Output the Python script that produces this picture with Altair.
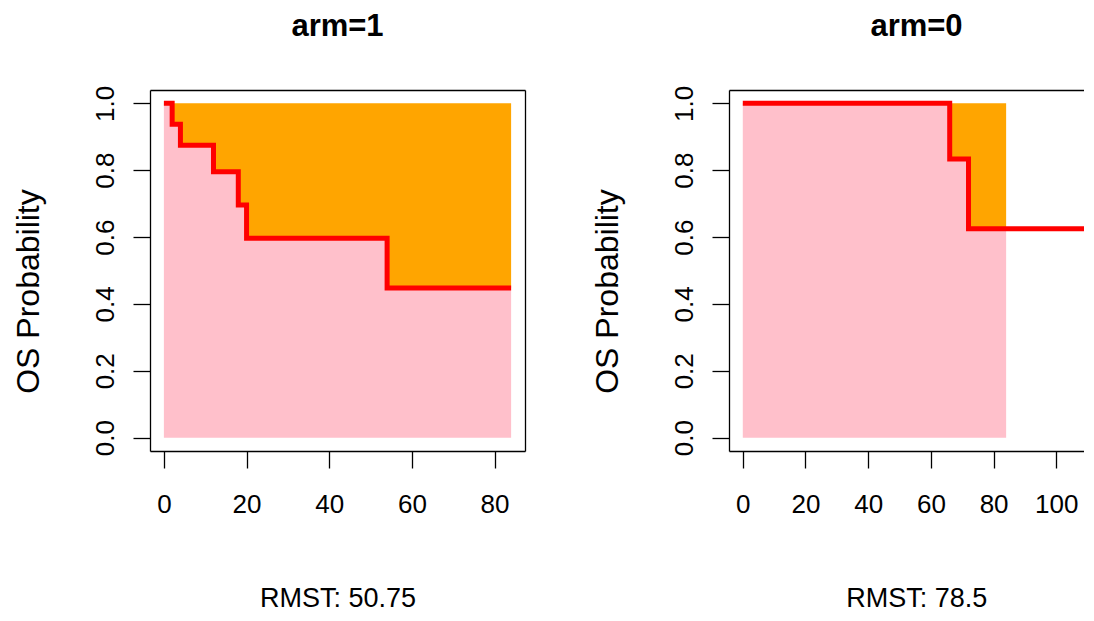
import altair as alt
import pandas as pd

# ---- data ----
arm1_time = [0, 2, 4, 12, 18, 20, 54, 84]
arm1_surv = [1.0, 0.9375, 0.875, 0.7955, 0.6960, 0.5966, 0.4474, 0.4474]
arm0_time = [0, 66, 72, 110]
arm0_surv = [1.0, 0.8333, 0.625, 0.625]
tau = 84
panel_titles = ["arm=1", "arm=0"]
rmst_labels = ["RMST: 50.75", "RMST: 78.5"]
x_ticks_left = [0, 20, 40, 60, 80]
x_ticks_right = [0, 20, 40, 60, 80, 100]
y_ticks = [0.0, 0.2, 0.4, 0.6, 0.8, 1.0]

FONT = "Liberation Sans"
PLOT_H = 361


def area_df(times, surv, cut):
    rows = [(t, s) for t, s in zip(times, surv) if t <= cut]
    if rows[-1][0] < cut:
        rows.append((cut, rows[-1][1]))
    df = pd.DataFrame(rows, columns=["time", "surv"])
    df["top"] = 1.0
    df["bottom"] = 0.0
    return df


def panel(times, surv, title, rmst, xdomain, width, xticks, right_box, title_dx, xtitle_x):
    line_df = pd.DataFrame({"time": times, "surv": surv})
    adf = area_df(times, surv, tau)
    xs = alt.Scale(domain=xdomain, nice=False, zero=False)
    ys = alt.Scale(domain=[-0.04, 1.04], nice=False, zero=False)
    common = dict(domainColor="black", domainWidth=1.3, tickColor="black", tickWidth=1.3,
                  labelColor="black", titleColor="black", labelFont=FONT, titleFont=FONT,
                  grid=False, labelOverlap=False, labelFlush=False)
    bottom_axis = alt.Axis(orient="bottom", values=xticks, format="d", tickSize=17,
                           labelPadding=44, labelBaseline="alphabetic", labelFontSize=26,
                           title=rmst, titleFontSize=27, titleFontWeight="normal",
                           titleX=xtitle_x, titleY=155, titleBaseline="alphabetic",
                           titleAlign="center", titleAngle=0, **common)
    left_axis = alt.Axis(orient="left", values=y_ticks, format=".1f", tickSize=17,
                         labelPadding=20, labelAngle=270, labelAlign="center",
                         labelBaseline="alphabetic", labelFontSize=26,
                         title="OS Probability", titleFontSize=32, titleFontWeight="normal",
                         titleAngle=270, titleX=-112, titleY=201, titleBaseline="alphabetic",
                         titleAlign="center", **common)
    top_axis = alt.Axis(orient="top", ticks=False, labels=False, title=None, **common)
    right_axis = (alt.Axis(orient="right", ticks=False, labels=False, title=None, **common)
                  if right_box else None)

    pink = alt.Chart(adf).mark_area(interpolate="step-after", color="#FFC0CB", opacity=1,
                                    clip=True).encode(
        x=alt.X("time:Q", scale=xs, axis=bottom_axis),
        y=alt.Y("surv:Q", scale=ys, axis=left_axis),
        y2=alt.Y2("bottom:Q"),
    )
    orange = alt.Chart(adf).mark_area(interpolate="step-after", color="#FFA500", opacity=1,
                                      clip=True).encode(
        x=alt.X("time:Q", scale=xs, axis=None),
        y=alt.Y("surv:Q", scale=ys, axis=None),
        y2=alt.Y2("top:Q"),
    )
    line = alt.Chart(line_df).mark_line(interpolate="step-after", color="#FF0000",
                                        strokeWidth=5, clip=True).encode(
        x=alt.X("time:Q", scale=xs, axis=top_axis),
        y=alt.Y("surv:Q", scale=ys, axis=right_axis),
    )
    return alt.layer(pink, orange, line).resolve_axis(x="independent", y="independent").properties(
        width=width, height=PLOT_H,
        title=alt.TitleParams(title, font=FONT, fontSize=31, fontWeight="bold", color="black",
                              baseline="alphabetic", anchor="middle", frame="group",
                              offset=18, dx=title_dx),
    )


left = panel(arm1_time, arm1_surv, panel_titles[0], rmst_labels[0],
             [-3.36, 87.36], 375, x_ticks_left, True, 0, 187.5)
right_w = 355
right = panel(arm0_time, arm0_surv, panel_titles[1], rmst_labels[1],
              [-4.4, -4.4 + right_w / 3.135], right_w, x_ticks_right, False, 10, 187.3)

chart = alt.hconcat(left, right, spacing=204, bounds="flush").properties(
    padding={"left": 4, "top": 3, "right": 0, "bottom": 0}
).configure(font=FONT).configure_view(stroke=None)

chart.save("out.html", embed_options={"renderer": "svg", "actions": False})
